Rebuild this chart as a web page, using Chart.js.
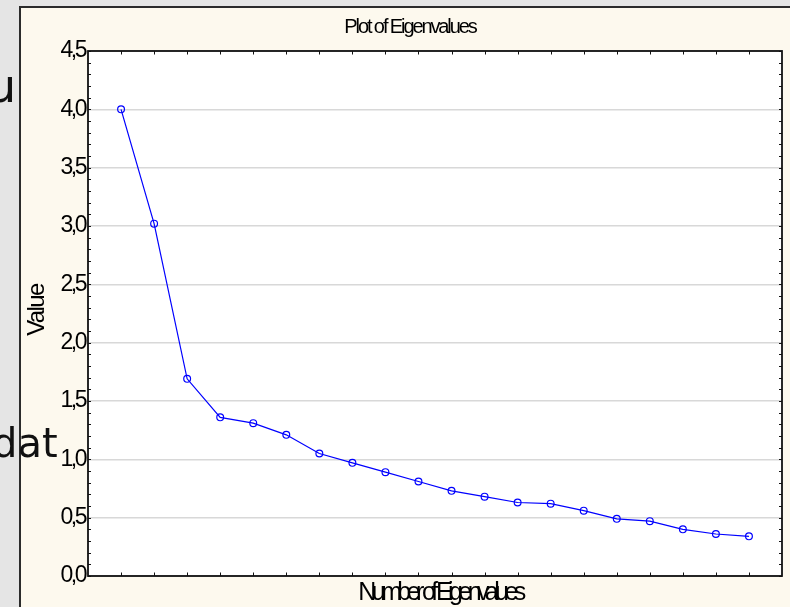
<!DOCTYPE html>
<html>
<head>
<meta charset="utf-8">
<script src="https://cdn.jsdelivr.net/npm/chart.js@4.4.1/dist/chart.umd.min.js"></script>
<style>
  html, body { margin: 0; padding: 0; }
  body {
    width: 790px; height: 607px; overflow: hidden; position: relative;
    background: #e5e5e5;
    font-family: "Liberation Sans", Arial, sans-serif;
  }
  #panel {
    position: absolute; left: 19px; top: 6px; width: 800px; height: 620px;
    background: #fdf9ee;
    border-top: 2px solid #2b2b2b; border-left: 2px solid #2b2b2b;
  }
  #chart { position: absolute; left: 0; top: 0; }
  .behind {
    position: absolute; font-family: "DejaVu Sans", sans-serif; line-height: 1;
    color: #111; white-space: nowrap;
  }
</style>
</head>
<body>
<div id="panel"></div>
<canvas id="chart" width="790" height="607"></canvas>
<div class="behind" style="left:-13px; top:63px; font-size:46px;">u</div>
<div class="behind" style="left:-8px; top:423px; font-size:40px;">dat</div>

<script>
// data
const components = [1, 2, 3, 4, 5, 6, 7, 8, 9, 10, 11, 12, 13, 14, 15, 16, 17, 18, 19, 20];
const eigenvalues = [4.0, 3.02, 1.69, 1.36, 1.31, 1.21, 1.05, 0.97, 0.89, 0.81,
                     0.73, 0.68, 0.63, 0.62, 0.56, 0.49, 0.47, 0.40, 0.36, 0.34];
const valueTicks = [0, 0.5, 1, 1.5, 2, 2.5, 3, 3.5, 4, 4.5];
const valueLabels = ["0,0", "0,5", "1,0", "1,5", "2,0", "2,5", "3,0", "3,5", "4,0", "4,5"];

const chartTitle = "Plot of Eigenvalues";
const xTitle = "Number of Eigenvalues";
const yTitle = "Value";

const FONT = '"Liberation Sans", Arial, sans-serif';

function squeezedText(ctx, text, x, y, size, spacing, rotate) {
  ctx.save();
  ctx.font = size + "px " + FONT;
  ctx.fillStyle = "#000";
  ctx.letterSpacing = spacing + "px";
  ctx.textAlign = "center";
  ctx.textBaseline = "alphabetic";
  ctx.translate(x, y);
  if (rotate) ctx.rotate(-Math.PI / 2);
  ctx.fillText(text, 0, 0);
  ctx.restore();
}

// white plot box, inner tick marks, frame and the squeezed titles
const plotBox = {
  id: "plotBox",
  beforeDraw(chart) {
    const { ctx, chartArea: a } = chart;
    ctx.save();
    ctx.fillStyle = "#ffffff";
    ctx.fillRect(a.left, a.top, a.right - a.left, a.bottom - a.top);
    ctx.restore();
    ctx.letterSpacing = "-2.5px"; // tick labels are drawn tight
  },
  afterDraw(chart) {
    const { ctx, chartArea: a, scales } = chart;
    ctx.letterSpacing = "0px";
    ctx.save();
    ctx.strokeStyle = "#111";
    ctx.lineWidth = 1;
    ctx.beginPath();
    for (let i = 0; i <= 45; i++) {
      const y = Math.round(scales.y.getPixelForValue(i / 10)) + 0.5;
      ctx.moveTo(a.left, y); ctx.lineTo(a.left + 3, y);
      ctx.moveTo(a.right, y); ctx.lineTo(a.right - 3, y);
    }
    components.forEach(c => {
      const x = Math.round(scales.x.getPixelForValue(c)) + 0.5;
      ctx.moveTo(x, a.bottom); ctx.lineTo(x, a.bottom - 3.5);
      ctx.moveTo(x, a.top); ctx.lineTo(x, a.top + 3.5);
    });
    ctx.stroke();
    ctx.lineWidth = 1.8;
    ctx.strokeRect(a.left, a.top, a.right - a.left, a.bottom - a.top);
    ctx.restore();

    squeezedText(ctx, chartTitle, 410, 33, 20, -2.1, false);
    squeezedText(ctx, xTitle, 440, 600, 25, -4.6, false);
    squeezedText(ctx, yTitle, 44, 310, 24, -1.6, true);
  }
};

new Chart(document.getElementById("chart"), {
  type: "line",
  data: {
    datasets: [{
      data: eigenvalues.map((v, i) => ({ x: components[i], y: v })),
      borderColor: "#0000ff",
      borderWidth: 1.2,
      pointRadius: 3.4,
      pointBorderWidth: 1.2,
      pointBorderColor: "#0000ff",
      pointBackgroundColor: "rgba(0,0,0,0)",
      tension: 0
    }]
  },
  options: {
    responsive: false,
    animation: false,
    devicePixelRatio: 1,
    layout: { padding: { top: 51, right: 8, bottom: 0, left: 0 } },
    plugins: { legend: { display: false }, tooltip: { enabled: false } },
    scales: {
      x: {
        type: "linear",
        min: 0,
        max: 21,
        ticks: { display: false, stepSize: 1 },
        grid: { display: false },
        border: { display: false },
        afterFit: s => { s.height = 31; }
      },
      y: {
        min: 0,
        max: 4.5,
        afterBuildTicks: s => { s.ticks = valueTicks.map(v => ({ value: v })); },
        ticks: {
          callback: (v, i) => valueLabels[i],
          color: "#000",
          padding: 3,
          font: { family: FONT, size: 23 }
        },
        grid: { color: "#d8d8d8", lineWidth: 1.5, drawTicks: false },
        border: { display: false },
        afterFit: s => { s.width = 88; }
      }
    }
  },
  plugins: [plotBox]
});
</script>
</body>
</html>
